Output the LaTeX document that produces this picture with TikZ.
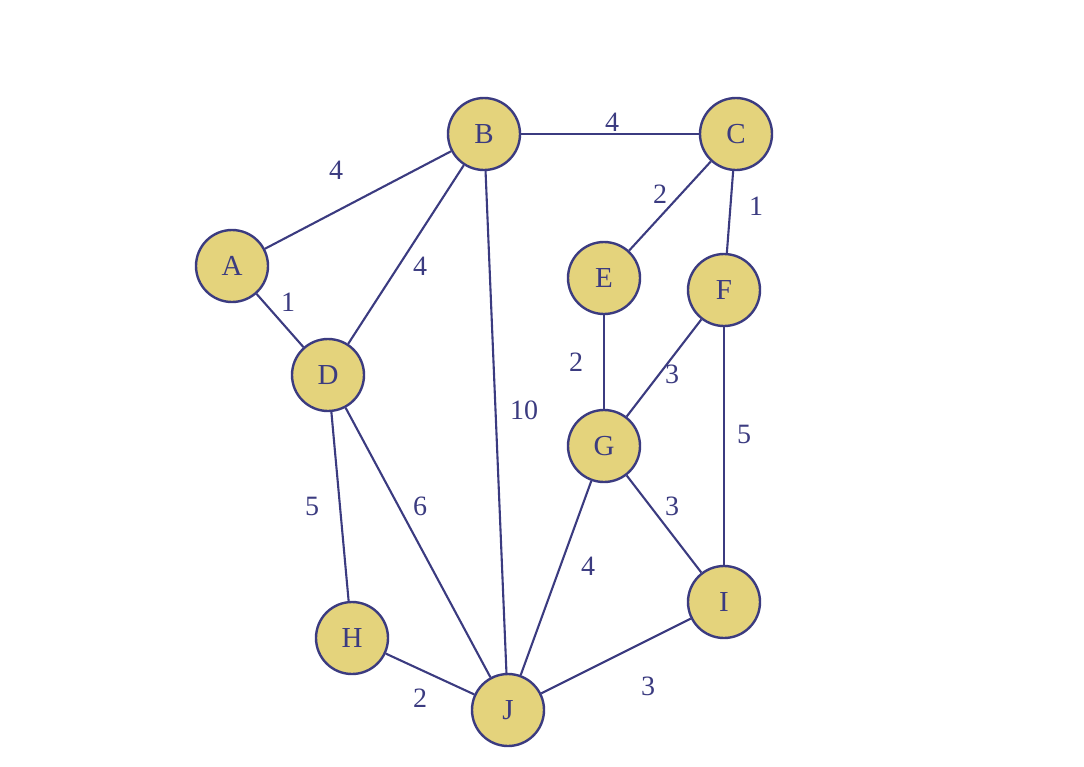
\documentclass[tikz,border=0pt]{standalone}
\usepackage{fontspec}
\setmainfont{Liberation Serif}
\definecolor{nodefill}{HTML}{E4D37C}
\definecolor{ink}{HTML}{3B3B80}
\begin{document}
\begin{tikzpicture}[x=1pt,y=-1pt,
  vtx/.style={circle,draw=ink,fill=nodefill,line width=2.4pt,minimum size=72pt,inner sep=0pt,text=ink,font=\fontsize{29}{29}\selectfont},
  edge/.style={draw=ink,line width=2.1pt},
  wt/.style={text=ink,font=\fontsize{28}{28}\selectfont,inner sep=0pt}]
\useasboundingbox (0,0) rectangle (1084,766);
\node[vtx] (A) at (232,266) {A};
\node[vtx] (B) at (484,134) {B};
\node[vtx] (C) at (736,134) {C};
\node[vtx] (D) at (328,375) {D};
\node[vtx] (E) at (604,278) {E};
\node[vtx] (F) at (724,290) {F};
\node[vtx] (G) at (604,446) {G};
\node[vtx] (H) at (352,638) {H};
\node[vtx] (I) at (724,602) {I};
\node[vtx] (J) at (508,710) {J};
\path[edge] (A) -- (B);
\path[edge] (B) -- (C);
\path[edge] (C) -- (E);
\path[edge] (C) -- (F);
\path[edge] (A) -- (D);
\path[edge] (B) -- (D);
\path[edge] (B) -- (J);
\path[edge] (E) -- (G);
\path[edge] (F) -- (G);
\path[edge] (F) -- (I);
\path[edge] (D) -- (H);
\path[edge] (D) -- (J);
\path[edge] (G) -- (I);
\path[edge] (G) -- (J);
\path[edge] (H) -- (J);
\path[edge] (I) -- (J);
\node[wt] (wAB) at (336,170) {4};
\node[wt] (wBC) at (612,122) {4};
\node[wt] (wCE) at (660,194) {2};
\node[wt] (wCF) at (756,206) {1};
\node[wt] (wAD) at (288,302) {1};
\node[wt] (wBD) at (420,266) {4};
\node[wt] (wBJ) at (524,410) {10};
\node[wt] (wEG) at (576,362) {2};
\node[wt] (wFG) at (672,374) {3};
\node[wt] (wFI) at (744,434) {5};
\node[wt] (wDH) at (312,506) {5};
\node[wt] (wDJ) at (420,506) {6};
\node[wt] (wGI) at (672,506) {3};
\node[wt] (wGJ) at (588,566) {4};
\node[wt] (wHJ) at (420,698) {2};
\node[wt] (wIJ) at (648,686) {3};
\end{tikzpicture}
\end{document}
